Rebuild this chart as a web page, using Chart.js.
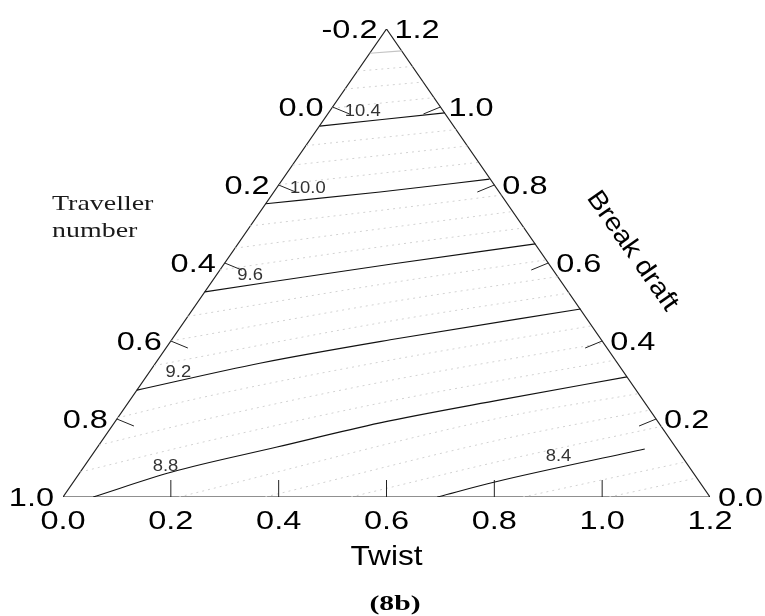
<!DOCTYPE html>
<html><head><meta charset="utf-8">
<script src="https://cdn.jsdelivr.net/npm/chart.js@4"></script>
<style>html,body{margin:0;padding:0;background:#fff}canvas{display:block}</style>
</head><body>
<canvas id="c" width="765" height="616" style="width:765px;height:616px"></canvas>
<script>
// ---- Data (x = position along Twist base 0..1.2, y = Break draft level 0..1.2) ----
const frameU = [0, 1.2, 0.6, 0];
const frameV = [0, 0, 1.2, 0];

const twistTicks = [0.2, 0.4, 0.6, 0.8, 1.0];
const breakTicks = [0.2, 0.4, 0.6, 0.8, 1.0];
const travellerTicks = [0.0, 0.2, 0.4, 0.6, 0.8];

const twistLabels = ['0.0', '0.2', '0.4', '0.6', '0.8', '1.0', '1.2'];
const twistLabelValues = [0, 0.2, 0.4, 0.6, 0.8, 1.0, 1.2];
const breakLabels = ['0.0', '0.2', '0.4', '0.6', '0.8', '1.0', '1.2'];
const breakLabelValues = [0, 0.2, 0.4, 0.6, 0.8, 1.0, 1.2];
const travellerLabels = ['-0.2', '0.0', '0.2', '0.4', '0.6', '0.8', '1.0'];
const travellerLabelValues = [-0.2, 0, 0.2, 0.4, 0.6, 0.8, 1.0];

// major contour lines
const c108 = [[0.569, 1.138], [0.628, 1.144]];
const c104 = [[0.476, 0.951], [0.708, 0.985]];
const c100 = [[0.376, 0.752], [0.588, 0.782], [0.791, 0.815]];
const c96  = [[0.263, 0.526], [0.607, 0.597], [0.876, 0.649]];
const c92  = [[0.137, 0.274], [0.365, 0.343], [0.607, 0.403], [0.960, 0.482]];
const c88  = [[0.056, 0], [0.202, 0.064], [0.397, 0.128], [0.588, 0.190], [0.811, 0.249], [1.046, 0.308]];
const c84  = [[0.694, 0], [0.801, 0.0385], [1.079, 0.123]];

// minor (dotted) contour lines
const m107 = [[0.546, 1.092], [0.648, 1.104]];
const m106 = [[0.523, 1.046], [0.668, 1.064]];
const m105 = [[0.499, 0.997], [0.688, 1.024]];
const m103 = [[0.451, 0.901], [0.729, 0.942]];
const m102 = [[0.426, 0.851], [0.750, 0.900]];
const m101 = [[0.401, 0.801], [0.771, 0.858]];
const m99  = [[0.347, 0.695], [0.607, 0.738], [0.813, 0.774]];
const m98  = [[0.319, 0.638], [0.607, 0.691], [0.834, 0.732]];
const m97  = [[0.291, 0.582], [0.607, 0.645], [0.855, 0.690]];
const m95  = [[0.231, 0.463], [0.607, 0.549], [0.896, 0.608]];
const m94  = [[0.200, 0.400], [0.607, 0.500], [0.917, 0.565]];
const m93  = [[0.169, 0.337], [0.607, 0.451], [0.939, 0.523]];
const m91  = [[0.101, 0.203], [0.254, 0.254], [0.607, 0.351], [0.981, 0.439]];
const m90  = [[0.067, 0.133], [0.254, 0.196], [0.607, 0.299], [1.003, 0.395]];
const m89  = [[0.032, 0.064], [0.254, 0.139], [0.607, 0.246], [1.024, 0.351]];
const m87  = [[0.215, 0], [0.811, 0.203], [1.067, 0.265]];
const m86  = [[0.375, 0], [0.811, 0.147], [1.089, 0.223]];
const m85  = [[0.534, 0], [0.811, 0.092], [1.110, 0.181]];
const m83  = [[0.853, 0], [1.155, 0.090]];
const m82  = [[1.013, 0], [1.176, 0.049]];

const contourLabels = ['10.4', '10.0', '9.6', '9.2', '8.8', '8.4'];
const contourLabelU = [0.556, 0.454, 0.347, 0.214, 0.190, 0.919];
const contourLabelV = [0.993, 0.795, 0.573, 0.323, 0.083, 0.1085];

// ---- build datasets ----
const pts = arr => arr.map(p => ({x: p[0], y: p[1]}));
const solid = (arr, color) => ({data: pts(arr), showLine: true, borderColor: color, borderWidth: 1.1,
  pointRadius: 0, fill: false, cubicInterpolationMode: 'monotone'});
const dotted = arr => ({data: pts(arr), showLine: true, borderColor: '#d2d2d2', borderWidth: 1,
  borderDash: [2, 4], pointRadius: 0, fill: false, cubicInterpolationMode: 'monotone'});

const datasets = [
  ...[m107, m106, m105, m103, m102, m101, m99, m98, m97, m95, m94, m93, m91, m90, m89, m87, m86, m85, m83, m82].map(dotted),
  solid(c108, '#c4c4c4'),
  ...[c104, c100, c96, c92, c88, c84].map(a => solid(a, '#111')),
  {data: frameU.map((u, i) => ({x: u, y: frameV[i]})), showLine: true, borderColor: '#222', borderWidth: 1.2,
   pointRadius: 0, fill: false, tension: 0}
];

function txt(ctx, s, x, y, font, sx, align, color, rot) {
  ctx.save();
  ctx.translate(x, y);
  if (rot) ctx.rotate(rot);
  ctx.scale(sx, 1);
  ctx.font = font;
  ctx.textAlign = align;
  ctx.textBaseline = 'alphabetic';
  ctx.fillStyle = color;
  ctx.fillText(s, 0, 0);
  ctx.restore();
}

const ternaryDecor = {
  id: 'ternaryDecor',
  afterDatasetsDraw(chart) {
    const ctx = chart.ctx, xs = chart.scales.x, ys = chart.scales.y;
    const P = (u, v) => [xs.getPixelForValue(u), ys.getPixelForValue(v)];
    ctx.save();
    ctx.strokeStyle = '#222';
    ctx.lineWidth = 1;
    const seg = (a, dx, dy) => { ctx.beginPath(); ctx.moveTo(a[0], a[1]); ctx.lineTo(a[0] + dx, a[1] + dy); ctx.stroke(); };
    twistTicks.forEach(w => seg(P(w, 0), 0, -17));
    breakTicks.forEach(b => seg(P(1.2 - 0.5 * b, b), -17, 7));
    travellerTicks.forEach(t => { const v = 1.0 - t; seg(P(0.5 * v, v), 17, 7); });
    ctx.restore();

    const tickFont = '26px "Liberation Sans", Arial, sans-serif';
    twistLabels.forEach((s, i) => { const p = P(twistLabelValues[i], 0); txt(ctx, s, p[0], p[1] + 32, tickFont, 1.25, 'center', '#000'); });
    breakLabels.forEach((s, i) => { const b = breakLabelValues[i]; const p = P(1.2 - 0.5 * b, b); txt(ctx, s, p[0] + 8, p[1] + 9, tickFont, 1.25, 'left', '#000'); });
    travellerLabels.forEach((s, i) => { const v = 1.0 - travellerLabelValues[i]; const p = P(0.5 * v, v); txt(ctx, s, p[0] - 9, p[1] + 9, tickFont, 1.25, 'right', '#000'); });

    const cf = '16px "Liberation Sans", Arial, sans-serif';
    contourLabels.forEach((s, i) => { const p = P(contourLabelU[i], contourLabelV[i]); txt(ctx, s, p[0], p[1] + 6, cf, 1.15, 'center', '#333'); });

    const mid = P(0.6, 0);
    txt(ctx, 'Twist', mid[0], mid[1] + 68, '28px "Liberation Sans", Arial, sans-serif', 1.13, 'center', '#000');
    const rs = P(0.9, 0.6);
    ctx.save();
    ctx.translate(rs[0] + 84, rs[1] - 12);
    ctx.rotate(55 * Math.PI / 180);
    ctx.scale(1.1, 1);
    ctx.font = '26px "Liberation Sans", Arial, sans-serif';
    ctx.textAlign = 'center';
    ctx.textBaseline = 'middle';
    ctx.fillStyle = '#000';
    ctx.fillText('Break draft', 0, 0);
    ctx.restore();
    const sf = '22px "Liberation Serif", "Times New Roman", serif';
    txt(ctx, 'Traveller', 52, 210, sf, 1.27, 'left', '#1a1a1a');
    txt(ctx, 'number', 52, 237, sf, 1.27, 'left', '#1a1a1a');
    txt(ctx, '(8b)', 395, 610, 'bold 22px "Liberation Serif", "Times New Roman", serif', 1.35, 'center', '#000');
  }
};

new Chart(document.getElementById('c'), {
  type: 'scatter',
  data: {datasets},
  options: {
    responsive: false,
    devicePixelRatio: 1,
    animation: false,
    layout: {padding: {left: 63, right: 55, top: 29, bottom: 119}},
    plugins: {legend: {display: false}, tooltip: {enabled: false}, title: {display: false}},
    scales: {
      x: {type: 'linear', min: 0, max: 1.2, display: false},
      y: {type: 'linear', min: 0, max: 1.2, display: false}
    },
    elements: {line: {tension: 0}}
  },
  plugins: [ternaryDecor]
});
</script>
</body></html>
